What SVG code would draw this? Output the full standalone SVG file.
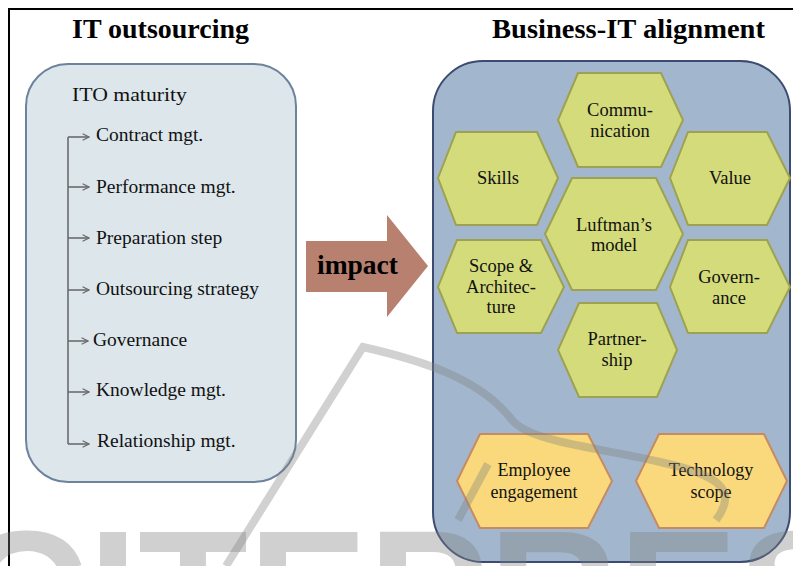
<svg xmlns="http://www.w3.org/2000/svg" width="793" height="566" viewBox="0 0 793 566">
  <defs>
    <style>
      .title { font-family: "Liberation Serif", "Times New Roman", serif; font-weight: bold; font-size: 27px; fill: #000; }
      .label { font-family: "Liberation Serif", "Times New Roman", serif; font-size: 19.5px; fill: #111; }
      .hexlabel { font-family: "Liberation Serif", "Times New Roman", serif; font-size: 18.5px; fill: #111; text-anchor: middle; }
      .hexlabel-sm { font-size: 18px; }
      .hex-green { fill: #d4db7b; stroke: #9ea250; stroke-width: 2; }
      .hex-orange { fill: #f9d97b; stroke: #c68b62; stroke-width: 2; }
      .branch { fill: none; stroke: #6b6b6b; stroke-width: 1.6; }
      .mark { fill: #808080; opacity: 0.36; }
      .mark-line { fill: none; stroke: #808080; stroke-width: 8; opacity: 0.36; stroke-linecap: butt; }
    </style>
    <marker id="open-arrow" viewBox="0 0 10 10" refX="9" refY="5" markerWidth="8" markerHeight="8" markerUnits="userSpaceOnUse" orient="auto">
      <path d="M1,1 L9,5 L1,9" fill="none" stroke="#6b6b6b" stroke-width="1.6"/>
    </marker>
  </defs>

  <rect width="793" height="566" fill="#ffffff"/>

  <!-- outer frame (continues past the right and bottom edges) -->
  <rect x="9" y="9" width="800" height="580" fill="none" stroke="#000" stroke-width="2"/>

  <!-- headings -->
  <text class="title" x="72" y="38" textLength="177" lengthAdjust="spacingAndGlyphs">IT outsourcing</text>
  <text class="title" x="492" y="38" textLength="273" lengthAdjust="spacingAndGlyphs">Business-IT alignment</text>

  <!-- left panel: ITO maturity -->
  <g id="ito-maturity">
    <rect x="26" y="64" width="270" height="418" rx="42" ry="42" fill="#dce6eb" stroke="#6c829d" stroke-width="2"/>
    <text class="label" x="72" y="101" font-size="20.5" textLength="115" lengthAdjust="spacingAndGlyphs">ITO maturity</text>
  </g>
  <g id="contract-mgt"><text class="label" x="96" y="141">Contract mgt.</text></g>
  <g id="performance-mgt"><text class="label" x="96" y="193">Performance mgt.</text></g>
  <g id="preparation-step"><text class="label" x="96" y="244">Preparation step</text></g>
  <g id="outsourcing-strategy"><text class="label" x="96" y="295">Outsourcing strategy</text></g>
  <g id="governance-ito"><text class="label" x="93" y="346">Governance</text></g>
  <g id="knowledge-mgt"><text class="label" x="96" y="396">Knowledge mgt.</text></g>
  <g id="relationship-mgt"><text class="label" x="97" y="447">Relationship mgt.</text></g>

  <!-- right panel: Business-IT alignment -->
  <g id="bita-panel">
    <rect x="433" y="61" width="357" height="501" rx="50" ry="50" fill="#a2b7cd" stroke="#3d4b73" stroke-width="2"/>
  </g>

  <g id="communication">
    <polygon class="hex-green" points="558,120 578,73 661,73 683,120 661,167 578,167"/>
    <text class="hexlabel" x="620" y="116">Commu-</text>
    <text class="hexlabel" x="620" y="137">nication</text>
  </g>
  <g id="skills">
    <polygon class="hex-green" points="438,178 456,132 537,132 558,178 537,225 456,225"/>
    <text class="hexlabel" x="498" y="184">Skills</text>
  </g>
  <g id="value">
    <polygon class="hex-green" points="670,178 688,132 767,132 790,178 767,225 688,225"/>
    <text class="hexlabel" x="730" y="184">Value</text>
  </g>
  <g id="luftman-model">
    <polygon class="hex-green" points="545,234 572,178 656,178 683,234 656,290 572,290"/>
    <text class="hexlabel" x="614" y="231">Luftman’s</text>
    <text class="hexlabel" x="614" y="251">model</text>
  </g>
  <g id="scope-architecture">
    <polygon class="hex-green" points="438,287 457,240 541,240 564,287 541,333 457,333"/>
    <text class="hexlabel" x="501" y="272">Scope &amp;</text>
    <text class="hexlabel" x="501" y="293">Architec-</text>
    <text class="hexlabel" x="501" y="313">ture</text>
  </g>
  <g id="governance-bita">
    <polygon class="hex-green" points="670,287 688,240 767,240 790,287 767,333 688,333"/>
    <text class="hexlabel" x="729" y="283">Govern-</text>
    <text class="hexlabel" x="729" y="304">ance</text>
  </g>
  <g id="partnership">
    <polygon class="hex-green" points="558,350 579,303 657,303 677,350 657,397 579,397"/>
    <text class="hexlabel" x="617" y="345">Partner-</text>
    <text class="hexlabel" x="617" y="366">ship</text>
  </g>
  <g id="employee-engagement">
    <polygon class="hex-orange" points="457,481 480,434 588,434 612,481 588,528 480,528"/>
    <text class="hexlabel hexlabel-sm" x="534" y="476">Employee</text>
    <text class="hexlabel hexlabel-sm" x="534" y="498">engagement</text>
  </g>
  <g id="technology-scope">
    <polygon class="hex-orange" points="636,481 659,434 764,434 787,481 764,528 659,528"/>
    <text class="hexlabel hexlabel-sm" x="711" y="476">Technology</text>
    <text class="hexlabel hexlabel-sm" x="711" y="498">scope</text>
  </g>

  <!-- impact block arrow -->
  <g id="impact">
    <polygon points="306,241 387,241 387,215 428,266 387,317 387,292 306,292" fill="#b8806e"/>
    <text class="title" x="317" y="274" font-size="26" textLength="81" lengthAdjust="spacingAndGlyphs">impact</text>
  </g>

  <!-- connectors: ITO maturity branches -->
  <g id="connectors">
    <path class="branch" d="M68 137 V444"/>
    <path class="branch" d="M68 137 H89" marker-end="url(#open-arrow)"/>
    <path class="branch" d="M68 187 H89" marker-end="url(#open-arrow)"/>
    <path class="branch" d="M68 238 H89" marker-end="url(#open-arrow)"/>
    <path class="branch" d="M68 290 H89" marker-end="url(#open-arrow)"/>
    <path class="branch" d="M68 341 H88" marker-end="url(#open-arrow)"/>
    <path class="branch" d="M68 392 H89" marker-end="url(#open-arrow)"/>
    <path class="branch" d="M68 444 H89" marker-end="url(#open-arrow)"/>
  </g>

  <!-- faint publisher mark over the lower part -->
  <g id="publisher-mark">
    <path class="mark-line" d="M226 566 L363 347 C420 360 480 378 512 420 C530 442 600 448 660 462 C715 474 740 488 716 520"/>
    <path class="mark-line" d="M488 464 L458 520"/>
    <text class="mark" x="-162" y="656" font-family="Liberation Sans, Arial, sans-serif" font-weight="bold" font-size="180">SCITEPRESS</text>
  </g>
</svg>
